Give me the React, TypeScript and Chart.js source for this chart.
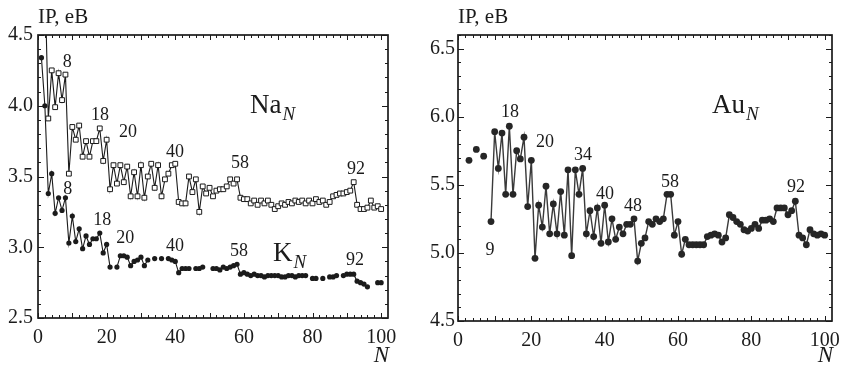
import { useEffect, useRef } from "react";
import { Chart, registerables } from "chart.js";

Chart.register(...registerables);

// Ionization potentials (eV) for cluster sizes N = 1..100 (null = no point)
const naIP: (number | null)[] = [
  null, 4.93, 3.91, 4.25, 3.99, 4.23, 4.04, 4.22, 3.52, 3.85,
  3.76, 3.86, 3.64, 3.75, 3.64, 3.75, 3.75, 3.84, 3.61, 3.76,
  3.41, 3.58, 3.45, 3.58, 3.46, 3.57, 3.36, 3.53, 3.36, 3.58,
  3.35, 3.50, 3.59, 3.42, 3.58, 3.36, 3.48, 3.52, 3.58, 3.59,
  3.32, 3.31, 3.31, 3.50, 3.39, 3.48, 3.25, 3.43, 3.38, 3.42,
  3.36, 3.40, 3.41, 3.41, 3.43, 3.48, 3.45, 3.48, 3.35, 3.34,
  3.34, 3.31, 3.33, 3.30, 3.33, 3.31, 3.33, 3.30, 3.27, 3.29,
  3.31, 3.30, 3.32, 3.31, 3.33, 3.32, 3.33, 3.31, 3.33, 3.31,
  3.34, 3.32, 3.33, 3.30, 3.32, 3.36, 3.37, 3.38, 3.38, 3.39,
  3.40, 3.46, 3.30, 3.27, 3.27, 3.28, 3.33, 3.28, 3.29, 3.27,
];

const kIP: (number | null)[] = [
  4.34, 4.00, 3.38, 3.52, 3.24, 3.35, 3.26, 3.35, 3.03, 3.22,
  3.04, 3.13, 2.99, 3.08, 3.02, 3.06, 3.06, 3.10, 2.96, 3.02,
  2.86, null, 2.86, 2.94, 2.94, 2.93, 2.87, 2.90, 2.91, 2.93,
  2.87, 2.91, null, 2.92, null, 2.92, null, 2.92, 2.91, 2.90,
  2.82, 2.85, 2.85, 2.85, null, 2.85, 2.85, 2.86, null, null,
  2.85, 2.85, 2.84, 2.86, 2.85, 2.86, 2.87, 2.88, 2.81, 2.82,
  2.81, 2.80, 2.81, 2.80, 2.80, 2.79, 2.80, 2.80, 2.80, 2.80,
  2.79, 2.79, 2.80, 2.80, 2.79, 2.80, 2.80, 2.80, null, 2.78,
  2.78, null, 2.78, null, 2.79, 2.79, 2.80, null, 2.80, 2.81,
  2.81, 2.81, 2.76, 2.75, 2.74, 2.72, null, null, 2.75, 2.75,
];

const auIP: (number | null)[] = [
  null, null, 5.68, null, 5.76, null, 5.71, null, 5.23, 5.89,
  5.62, 5.88, 5.43, 5.93, 5.43, 5.75, 5.69, 5.85, 5.34, 5.68,
  4.96, 5.35, 5.19, 5.49, 5.14, 5.36, 5.14, 5.45, 5.13, 5.61,
  4.98, 5.61, 5.43, 5.62, 5.14, 5.31, 5.12, 5.33, 5.07, 5.35,
  5.08, 5.25, 5.10, 5.19, 5.14, 5.21, 5.21, 5.25, 4.94, 5.07,
  5.11, 5.23, 5.21, 5.25, 5.23, 5.25, 5.43, 5.43, 5.13, 5.23,
  4.99, 5.10, 5.06, 5.06, 5.06, 5.06, 5.06, 5.12, 5.13, 5.14,
  5.13, 5.08, 5.11, 5.28, 5.26, 5.23, 5.21, 5.17, 5.16, 5.18,
  5.21, 5.18, 5.24, 5.24, 5.25, 5.23, 5.33, 5.33, 5.33, 5.28,
  5.31, 5.38, 5.13, 5.11, 5.06, 5.17, 5.14, 5.13, 5.14, 5.13,
];

const xTicks = [0, 20, 40, 60, 80, 100];
const leftYTicks = [2.5, 3.0, 3.5, 4.0, 4.5];
const rightYTicks = [4.5, 5.0, 5.5, 6.0, 6.5];

// magic-number annotations: [N, IP, text]
const naMarks: [number, number, string][] = [
  [8.5, 4.31, "8"], [18.1, 3.93, "18"], [26.2, 3.81, "20"],
  [39.9, 3.67, "40"], [58.9, 3.59, "58"], [92.7, 3.55, "92"],
];
const kMarks: [number, number, string][] = [
  [8.7, 3.41, "8"], [18.7, 3.19, "18"], [25.4, 3.06, "20"],
  [39.9, 3.01, "40"], [58.6, 2.97, "58"], [92.4, 2.91, "92"],
];
const auMarks: [number, number, string][] = [
  [8.7, 5.02, "9"], [14.2, 6.03, "18"], [23.7, 5.81, "20"], [34.1, 5.72, "34"],
  [40.1, 5.43, "40"], [47.7, 5.34, "48"], [57.8, 5.52, "58"], [92.2, 5.48, "92"],
];

const FONT = '"Liberation Serif", "Times New Roman", serif';
const INK = "#1b1b1b";

const toPoints = (arr: (number | null)[]) => arr.map((v, i) => ({ x: i + 1, y: v }));

const decorPlugin = {
  id: "decor",
  afterDraw(chart: any, _args: any, opts: any) {
    const { ctx, chartArea: a, scales } = chart;
    const xs = scales.x;
    const ys = scales.y;
    ctx.save();
    // frame
    ctx.strokeStyle = INK;
    ctx.lineWidth = 1.7;
    ctx.strokeRect(a.left, a.top, a.right - a.left, a.bottom - a.top);
    // inner ticks
    ctx.lineWidth = 1;
    ctx.beginPath();
    for (let v = 0; v <= 100.001; v += 2) {
      const p = Math.round(xs.getPixelForValue(v)) + 0.5;
      const len = v % 10 === 0 ? 5 : 3;
      ctx.moveTo(p, a.bottom);
      ctx.lineTo(p, a.bottom - len);
      ctx.moveTo(p, a.top);
      ctx.lineTo(p, a.top + len);
    }
    const yMin = opts.yMin;
    const yMax = opts.yMax;
    for (let k = 0; yMin + k * 0.1 <= yMax + 1e-6; k++) {
      const v = yMin + k * 0.1;
      const p = Math.round(ys.getPixelForValue(v)) + 0.5;
      const len = k % 5 === 0 ? 6 : 3;
      ctx.moveTo(a.left, p);
      ctx.lineTo(a.left + len, p);
      ctx.moveTo(a.right, p);
      ctx.lineTo(a.right - len, p);
    }
    ctx.stroke();

    ctx.fillStyle = INK;
    // magic-number labels
    ctx.font = `18px ${FONT}`;
    ctx.textAlign = "center";
    ctx.textBaseline = "middle";
    for (const group of opts.marks) {
      for (const [n, ip, t] of group) {
        ctx.fillText(t, xs.getPixelForValue(n), ys.getPixelForValue(ip));
      }
    }
    // series names with italic subscript N
    ctx.textAlign = "left";
    ctx.textBaseline = "alphabetic";
    for (const s of opts.names) {
      const px = xs.getPixelForValue(s.n);
      const py = ys.getPixelForValue(s.ip);
      ctx.font = `27px ${FONT}`;
      ctx.fillText(s.text, px, py);
      const w = ctx.measureText(s.text).width;
      ctx.font = `italic 19px ${FONT}`;
      ctx.fillText("N", px + w + 1, py + 7);
    }
    // axis titles
    ctx.font = `21px ${FONT}`;
    ctx.fillText("IP, eB", a.left, a.top - 12);
    ctx.font = `italic 23px ${FONT}`;
    ctx.textAlign = "right";
    ctx.fillText("N", a.right + 1, 362);
    ctx.restore();
  },
};

function makeConfig(
  datasets: any[],
  yMin: number,
  yMax: number,
  yTicks: number[],
  xHeight: number,
  rightPad: number,
  yPad: number,
  marks: any[],
  names: any[]
): any {
  return {
    type: "line",
    data: { datasets },
    plugins: [decorPlugin],
    options: {
      animation: false,
      responsive: false,
      maintainAspectRatio: false,
      devicePixelRatio: 1,
      layout: { padding: { left: 0, top: 35, right: rightPad, bottom: 0 } },
      plugins: {
        legend: { display: false },
        tooltip: { enabled: false },
        decor: { yMin, yMax, marks, names },
      },
      scales: {
        x: {
          type: "linear",
          min: 0,
          max: 102,
          grid: { display: false, drawTicks: false },
          border: { display: false },
          ticks: {
            font: { family: FONT, size: 20 },
            color: INK,
            padding: 8,
            maxRotation: 0,
            callback: (v: number) => String(v),
          },
          afterBuildTicks: (s: any) => {
            s.ticks = xTicks.map((v) => ({ value: v }));
          },
          afterFit: (s: any) => {
            s.height = xHeight;
          },
        },
        y: {
          type: "linear",
          min: yMin,
          max: yMax,
          grid: { display: false, drawTicks: false },
          border: { display: false },
          ticks: {
            font: { family: FONT, size: 20 },
            color: INK,
            padding: yPad,
            callback: (v: number) => v.toFixed(1),
          },
          afterBuildTicks: (s: any) => {
            s.ticks = yTicks.map((v) => ({ value: v }));
          },
          afterFit: (s: any) => {
            s.width = 38;
          },
        },
      },
    },
  };
}

function Panel(props: { width: number; left: number; build: () => any }) {
  const ref = useRef<HTMLCanvasElement | null>(null);
  useEffect(() => {
    if (!ref.current) return;
    const chart = new Chart(ref.current, props.build());
    return () => chart.destroy();
  }, []);
  return (
    <canvas
      ref={ref}
      width={props.width}
      height={366}
      style={{ position: "absolute", left: props.left, top: 0, width: props.width, height: 366 }}
    />
  );
}

export default function App() {
  const buildLeft = () =>
    makeConfig(
      [
        {
          label: "Na",
          data: toPoints(naIP),
          borderColor: INK,
          borderWidth: 1.1,
          pointStyle: "rect",
          pointRadius: 3.4,
          pointBackgroundColor: "#ffffff",
          pointBorderColor: INK,
          pointBorderWidth: 1,
          spanGaps: false,
          tension: 0,
        },
        {
          label: "K",
          data: toPoints(kIP),
          borderColor: INK,
          borderWidth: 1.1,
          pointStyle: "circle",
          pointRadius: 2.6,
          pointBackgroundColor: INK,
          pointBorderColor: INK,
          pointBorderWidth: 0,
          spanGaps: false,
          tension: 0,
        },
      ],
      2.5,
      4.5,
      leftYTicks,
      48,
      32,
      5,
      [naMarks, kMarks],
      [
        { text: "Na", n: 61.8, ip: 3.95 },
        { text: "K", n: 68.5, ip: 2.9 },
      ]
    );
  const buildRight = () =>
    makeConfig(
      [
        {
          label: "Au",
          data: toPoints(auIP),
          borderColor: "#3a3a3a",
          borderWidth: 1.4,
          pointStyle: "circle",
          pointRadius: 3.4,
          pointBackgroundColor: "#262626",
          pointBorderColor: "#262626",
          pointBorderWidth: 0,
          spanGaps: false,
          tension: 0,
        },
      ],
      4.5,
      6.6,
      rightYTicks,
      45,
      16,
      3,
      [auMarks],
      [{ text: "Au", n: 69.3, ip: 6.03 }]
    );
  return (
    <div
      style={{
        position: "fixed",
        left: 0,
        top: 0,
        width: 848,
        height: 366,
        background: "#ffffff",
        overflow: "hidden",
      }}
    >
      <Panel width={420} left={0} build={buildLeft} />
      <Panel width={428} left={420} build={buildRight} />
    </div>
  );
}
